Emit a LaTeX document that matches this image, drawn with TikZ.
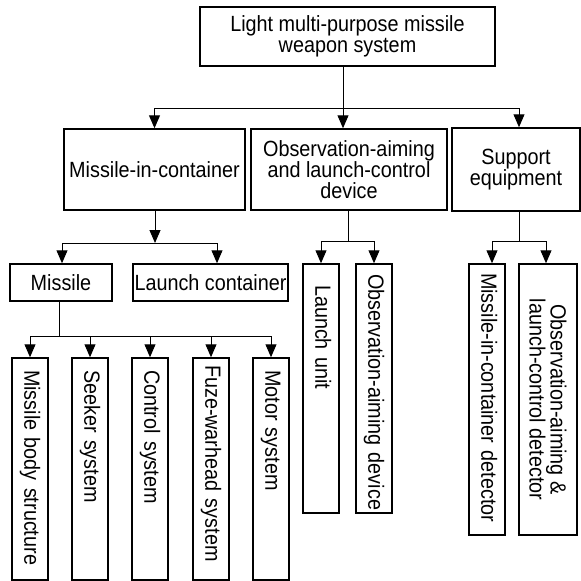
\documentclass[tikz,border=0pt]{standalone}
\usepackage{fontspec}
\setmainfont[FakeStretch=0.9]{Liberation Sans}
\usetikzlibrary{arrows.meta}
\begin{document}
\begin{tikzpicture}[x=1pt,y=-1pt,
  lbl/.style={font=\fontsize{22}{21}\selectfont},
  box/.style={lbl, draw, line width=1.5pt, inner sep=0pt, align=center},
  vbox/.style={lbl, draw, line width=1.5pt, rotate=-90, inner ysep=0pt, align=left,
               minimum height=36pt, text height=16pt, text depth=4.6pt},
  conn/.style={line width=1pt},
  arr/.style={conn, -{Triangle[length=13pt,width=11pt]}}]
\useasboundingbox (0,0) rectangle (581,581);

% level 0
\node[box, minimum width=295pt, minimum height=59pt] (top) at (347.5,36.5)
  {Light multi-purpose missile\\weapon system};
% level 1
\node[box, minimum width=181pt, minimum height=81pt] (mic) at (154.5,169.5) {Missile-in-container};
\node[box, minimum width=196pt, minimum height=81pt] (obs) at (349,169.5)
  {Observation-aiming\\and launch-control\\device};
\node[box, minimum width=128pt, minimum height=83pt] (sup) at (516,169.5) {Support\\equipment};
% level 2
\node[box, minimum width=102pt, minimum height=37pt] (mis) at (61,282.5) {Missile};
\node[box, minimum width=155pt, minimum height=37pt] (lc) at (210.5,282.5) {Launch container};
% vertical boxes (missile)
\node[vbox, minimum width=222pt, inner xsep=12pt, text width=198pt] (b1) at (30,469) {Missile body structure};
\node[vbox, minimum width=222pt, inner xsep=12pt, text width=198pt] (b2) at (90,469) {Seeker system};
\node[vbox, minimum width=222pt, inner xsep=12pt, text width=198pt] (b3) at (150,469) {Control system};
\node[vbox, minimum width=222pt, inner xsep=7pt, text width=208pt] (b4) at (211,469) {Fuze-warhead system};
\node[vbox, minimum width=222pt, inner xsep=12pt, text width=198pt] (b5) at (271,469) {Motor system};
% vertical boxes (observation)
\node[vbox, minimum width=249pt, inner xsep=21pt, text width=207pt] (lu) at (321,388.5) {Launch unit};
\node[vbox, minimum width=249pt, inner xsep=10pt, text width=229pt] (oad) at (374,388.5) {\mbox{Observation-aiming device}};
% vertical boxes (support)
\node[vbox, minimum width=271pt, inner xsep=9pt, text width=253pt] (mcd) at (487,399.5) {\mbox{Missile-in-container detector}};
\node[lbl, draw, line width=1.5pt, rotate=-90, inner sep=0pt, align=center,
      minimum width=271pt, minimum height=58pt] (old) at (548,399.5)
  {Observation-aiming \&\\launch-control detector};

% connectors: top level
\coordinate (j1) at (343,108);
\draw[conn] (top.south -| j1) -- (j1);
\draw[arr] (j1) -| (mic.north);
\draw[arr] (j1) -- (j1 |- obs.north);
\coordinate (s1) at (519,108);
\draw[conn] (j1) -- (s1);
\draw[arr] (s1) -- (s1 |- sup.north);

% missile-in-container
\coordinate (j2) at (155,243);
\draw[arr] (mic.south -| j2) -- (j2);
\coordinate (j2l) at (62,243);
\coordinate (j2r) at (217,243);
\draw[conn] (j2l) -- (j2r);
\draw[arr] (j2l) -- (j2l |- mis.north);
\draw[arr] (j2r) -- (j2r |- lc.north);

% missile
\coordinate (j3) at (59,336);
\draw[conn] (mis.south -| j3) -- (j3);
\draw[conn] (b1.center |- j3) -- (b5.center |- j3);
\foreach \b in {b1,b2,b3,b4,b5}
  \draw[arr] (\b.center |- j3) -- (\b.west);

% observation device
\coordinate (j4) at (348,241);
\draw[conn] (obs.south -| j4) -- (j4);
\draw[conn] (lu.center |- j4) -- (oad.center |- j4);
\draw[arr] (lu.center |- j4) -- (lu.west);
\draw[arr] (oad.center |- j4) -- (oad.west);

% support equipment
\coordinate (j5) at (519,241);
\draw[conn] (sup.south -| j5) -- (j5);
\coordinate (a5l) at (492,241);
\coordinate (a5r) at (546,241);
\draw[conn] (a5l) -- (a5r);
\draw[arr] (a5l) -- (a5l |- mcd.west);
\draw[arr] (a5r) -- (a5r |- old.west);
\end{tikzpicture}
\end{document}
